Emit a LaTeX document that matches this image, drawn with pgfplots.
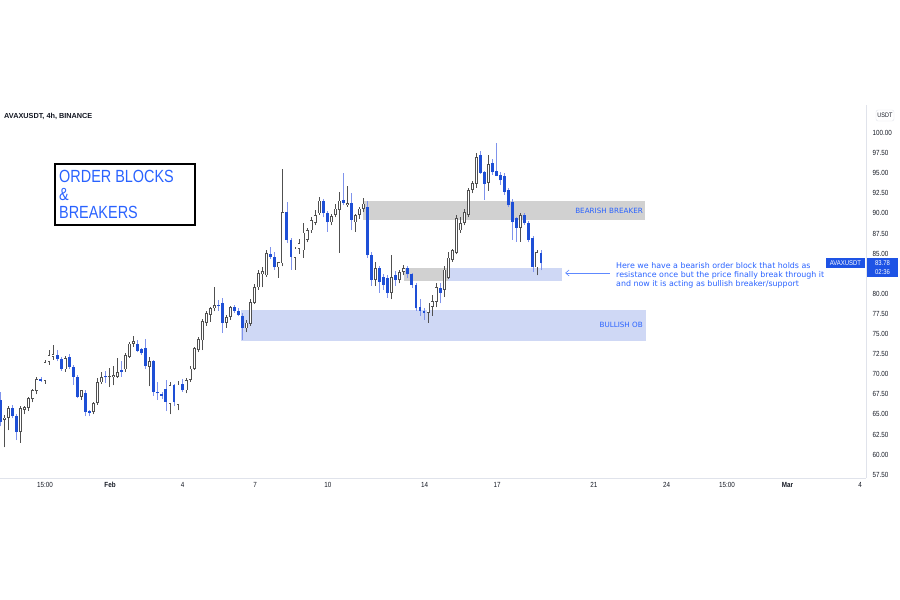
\documentclass[border=0pt]{standalone}
\usepackage{pgfplots}
\pgfplotsset{compat=1.18}
\usepackage{pgfplotstable}
\usetikzlibrary{arrows.meta}
\usepackage{fontspec}
\setmainfont{Liberation Sans}
\newfontfamily\nf[FakeStretch=0.85]{Liberation Sans}
\newfontfamily\nfb[FakeStretch=0.82]{Liberation Sans}
\newfontfamily\dvs{DejaVu Sans}
\definecolor{tvblue}{HTML}{2962FF}
\definecolor{candleblue}{HTML}{1E4FD6}
\definecolor{wickblue}{HTML}{7F93EC}
\definecolor{upgrey}{HTML}{505050}
\definecolor{zonegrey}{HTML}{D1D1D1}
\definecolor{zoneblue}{HTML}{CFD8F5}
\definecolor{axisc}{HTML}{E0E3EB}
\definecolor{txt}{HTML}{131722}
\definecolor{tagblue}{HTML}{1E53E5}

\pgfplotstableread{
i o h l c
0 66.8 67.8 63.5 64.1
1 64.3 64.9 60.9 64.6
2 64.6 66.0 63.0 65.8
3 65.8 66.2 64.5 64.8
4 64.8 65.0 61.8 62.8
5 62.8 66.0 61.5 65.8
6 65.6 66.0 65.0 65.9
7 65.8 67.2 65.4 67.0
8 66.9 68.2 66.5 68.0
9 67.9 69.6 67.5 69.4
10 69.4 69.6 69.0 69.2
11 69.2 71.8 68.8 71.5
12 71.5 73.0 71.2 72.4
13 72.2 73.6 71.8 72.5
14 72.4 73.0 71.6 71.9
15 71.9 72.2 70.4 70.6
16 70.6 72.3 70.3 72.0
17 72.1 72.5 70.6 70.9
18 70.9 71.2 68.7 69.7
19 69.7 69.9 67.0 67.2
20 67.2 68.0 66.8 68.0
21 67.7 68.0 64.8 65.3
22 65.4 65.6 64.8 65.2
23 65.3 66.6 65.0 66.4
24 66.4 69.5 66.2 69.0
25 69.0 70.3 68.8 69.6
26 69.8 70.4 68.9 69.6
27 69.6 70.8 68.4 69.7
28 69.6 71.0 68.6 69.9
29 69.7 72.0 69.5 70.3
30 70.5 71.7 69.7 70.3
31 70.6 72.6 70.3 72.4
32 72.2 74.0 72.0 73.8
33 73.8 74.7 73.4 74.1
34 73.8 74.2 72.7 72.9
35 73.1 73.3 72.4 72.6
36 73.2 74.4 70.7 71.0
37 70.9 72.2 68.5 71.6
38 71.6 71.8 67.3 67.8
39 67.8 69.0 66.8 67.6
40 67.5 67.8 66.9 67.3
41 68.2 69.3 65.4 66.6
42 66.3 69.0 65.0 68.6
43 68.6 68.8 66.0 66.5
44 66.2 69.1 65.5 68.7
45 68.8 69.4 67.8 68.0
46 68.0 69.5 67.6 69.3
47 69.3 71.0 69.0 70.7
48 70.7 73.4 70.5 73.2
49 73.0 74.6 72.7 74.4
50 74.2 76.9 73.0 76.6
51 76.4 77.9 76.0 77.6
52 77.4 78.4 76.5 78.2
53 78.2 80.8 77.8 78.6
54 78.6 79.2 77.9 78.5
55 78.9 79.5 75.1 76.4
56 76.4 77.4 75.8 77.1
57 77.1 78.5 76.8 78.3
58 78.3 78.6 77.6 77.9
59 77.9 78.2 77.2 77.4
60 77.3 77.6 74.3 75.8
61 75.7 76.8 75.2 76.4
62 76.3 79.3 76.0 79.0
63 78.9 81.2 78.7 80.8
64 80.8 82.9 80.5 82.6
65 82.4 83.3 80.8 82.8
66 82.3 85.5 82.1 85.1
67 85.0 85.8 84.3 84.6
68 84.6 85.2 83.0 83.3
69 83.3 84.0 82.0 83.9
70 83.8 95.5 83.4 90.2
71 90.2 91.4 86.3 86.7
72 86.7 87.0 83.0 84.6
73 84.5 85.8 83.0 85.6
74 85.6 86.8 85.0 86.3
75 85.4 88.8 84.5 87.6
76 86.7 88.2 86.4 87.9
77 87.9 89.6 87.6 89.2
78 88.8 90.4 88.5 89.8
79 90.0 92.0 89.8 91.6
80 91.6 91.8 89.5 90.0
81 90.0 90.3 87.7 88.9
82 88.9 89.9 88.5 89.7
83 89.8 91.2 89.5 90.6
84 90.4 92.7 85.1 91.6
85 91.7 95.0 91.0 91.3
86 91.0 93.4 90.8 91.3
87 91.3 92.5 87.9 89.2
88 88.9 89.9 87.7 89.8
89 89.8 90.8 89.3 90.6
90 90.6 91.9 90.2 91.2
91 90.8 91.5 84.5 84.8
92 84.8 85.2 81.0 81.7
93 81.7 84.0 81.0 83.2
94 83.2 83.5 80.1 81.5
95 82.1 82.4 80.5 81.1
96 82.0 82.3 79.5 80.1
97 80.1 84.8 79.3 82.1
98 82.3 82.8 81.0 81.7
99 81.7 83.0 81.3 82.7
100 82.7 83.6 82.3 83.2
101 83.2 83.4 82.0 82.4
102 82.4 82.6 80.7 81.1
103 81.1 81.3 77.9 78.2
104 78.3 79.3 77.3 77.9
105 77.9 78.2 76.8 77.6
106 77.6 78.9 76.4 78.9
107 78.4 79.8 77.3 79.1
108 79.0 81.4 78.3 80.8
109 80.7 81.4 78.8 80.1
110 80.5 83.4 79.6 83.0
111 82.0 85.2 81.8 84.5
112 84.2 85.6 84.0 85.4
113 85.1 89.8 84.9 89.4
114 87.9 89.5 87.6 88.8
115 88.8 90.5 88.5 90.2
116 89.8 93.2 89.5 92.9
117 92.9 94.0 92.5 93.8
118 93.7 97.5 93.2 97.0
119 97.3 97.7 94.9 95.0
120 95.1 95.3 91.7 93.7
121 93.8 97.2 92.8 96.1
122 96.3 96.8 94.8 95.1
123 95.3 98.8 94.6 94.7
124 94.8 95.2 93.5 94.1
125 94.7 95.0 92.3 92.7
126 92.9 93.1 90.8 91.0
127 91.4 91.8 86.7 88.9
128 89.4 89.6 86.5 88.2
129 88.2 90.0 86.5 89.8
130 89.8 90.0 88.6 88.8
131 88.8 89.0 86.4 86.7
132 86.9 87.2 82.7 83.3
133 83.3 85.4 82.3 85.2
134 85.1 85.5 82.9 83.78
}\candles

\begin{document}
\begin{tikzpicture}
\useasboundingbox (0pt,0pt) rectangle (900pt,600pt);
\begin{axis}[
  at={(0pt,122pt)}, anchor=south west, scale only axis,
  width=866pt, height=373pt,
  xmin=-0.15, xmax=214.6, ymin=57.09, ymax=103.48,
  axis x line*=bottom, axis y line*=right,
  axis line style={draw=axisc, line width=0.8pt},
  major tick length=0pt,
  /pgf/number format/assume math mode=true,
  ytick={57.5,60,62.5,65,67.5,70,72.5,75,77.5,80,85,87.5,90,92.5,95,97.5,100},
  yticklabel style={/pgf/number format/fixed, /pgf/number format/fixed zerofill, /pgf/number format/precision=2, anchor=west, xshift=3pt},
  xtick={11.0,27.13,45.13,63.13,81.13,105.13,123.13,147.13,165.13,180.1,195.13,213.13},
  xticklabels={15:00,\textbf{Feb},4,7,10,14,17,21,24,15:00,\textbf{Mar},4},
  tick label style={font=\nf\fontsize{7.4}{8}\selectfont, text=txt},
  xticklabel style={yshift=-1pt},
]
% zones
\addplot[fill=zoneblue, draw=none, forget plot] coordinates {(59.6,74.13) (160.0,74.13) (160.0,77.99) (59.6,77.99)};
\addplot[fill=zonegrey, draw=none, forget plot] coordinates {(89.9,89.18) (159.8,89.18) (159.8,91.54) (89.9,91.54)};
\addplot[fill=zonegrey, draw=none, forget plot] coordinates {(100.0,81.6) (111.0,81.6) (111.0,83.2) (100.0,83.2)};
\addplot[fill=zoneblue, draw=none, forget plot] coordinates {(111.0,81.6) (139.1,81.6) (139.1,83.2) (111.0,83.2)};

% up wicks
\addplot[draw=none, forget plot,
  x filter/.expression={\thisrow{c}>=\thisrow{o} ? x : nan},
  error bars/.cd, y dir=plus, y explicit, error mark=none,
  error bar style={draw=upgrey, line width=0.8pt}]
  table[x=i, y=l, y error expr={\thisrow{h}-\thisrow{l}}] {\candles};
% down wicks
\addplot[draw=none, forget plot,
  x filter/.expression={\thisrow{c}<\thisrow{o} ? x : nan},
  error bars/.cd, y dir=plus, y explicit, error mark=none,
  error bar style={draw=wickblue, line width=0.8pt}]
  table[x=i, y=l, y error expr={\thisrow{h}-\thisrow{l}}] {\candles};
% up bodies outline
\addplot[draw=none, forget plot,
  x filter/.expression={\thisrow{c}>=\thisrow{o} ? x : nan},
  error bars/.cd, y dir=plus, y explicit, error mark=none,
  error bar style={draw=upgrey, line width=2.9pt}]
  table[x=i, y=o, y error expr={max(\thisrow{c}-\thisrow{o},0.12)}] {\candles};
% up bodies inner
\addplot[draw=none, forget plot,
  x filter/.expression={\thisrow{c}>=\thisrow{o} ? x : nan},
  error bars/.cd, y dir=plus, y explicit, error mark=none,
  error bar style={draw=white, line width=1.3pt}]
  table[x=i, y expr={\thisrow{o}+0.09}, y error expr={max(\thisrow{c}-\thisrow{o}-0.18,0)}] {\candles};
% down bodies
\addplot[draw=none, forget plot,
  x filter/.expression={\thisrow{c}<\thisrow{o} ? x : nan},
  error bars/.cd, y dir=plus, y explicit, error mark=none,
  error bar style={draw=candleblue, line width=2.9pt}]
  table[x=i, y=c, y error expr={max(\thisrow{o}-\thisrow{c},0.12)}] {\candles};

\node[anchor=east, inner sep=0, font=\dvs\fontsize{7.2}{8}\selectfont, text=tvblue] at (axis cs:159.3,90.36) {BEARISH BREAKER};
\node[anchor=east, inner sep=0, font=\dvs\fontsize{7.2}{8}\selectfont, text=tvblue] at (axis cs:159.3,76.1) {BULLISH OB};
\node[anchor=north west, align=left, inner sep=0, font=\dvs\fontsize{7.9}{9}\selectfont, text=tvblue] at (axis cs:152.6,83.9) {Here we have a bearish order block that holds as\\resistance once but the price finally break through it\\and now it is acting as bullish breaker/support};
\draw[-{Straight Barb[length=3.5pt,width=6pt]}, draw=tvblue!75, line width=0.6pt] (axis cs:151.1,82.59) -- (axis cs:140.0,82.59);
\end{axis}

% title
\node[anchor=west, inner sep=0, font=\bfseries\fontsize{7.3}{8}\selectfont, text=txt] at (4pt,484pt) {AVAXUSDT, 4h, BINANCE};
% order blocks box
\draw[line width=1.4pt, black] (55pt,375pt) rectangle (195pt,436pt);
\node[anchor=north west, align=left, inner sep=0, font=\nfb\fontsize{17.6}{17.7}\selectfont, text=tvblue] at (59pt,429.5pt) {ORDER BLOCKS\\\&\\BREAKERS};
% USDT label
\node[draw=axisc, rounded corners=2pt, font=\nf\fontsize{6.5}{7}\selectfont, text=txt, inner sep=1.5pt, minimum height=11pt] at (885pt,484.5pt) {USDT};
% price tags
\fill[tagblue] (826pt,332pt) rectangle (865pt,342pt);
\node[text=white, font=\nf\fontsize{7}{7}\selectfont, inner sep=0] at (845.5pt,337pt) {AVAXUSDT};
\fill[tagblue] (867pt,323pt) rectangle (898pt,342pt);
\node[text=white, font=\nf\fontsize{7}{7}\selectfont, inner sep=0] at (882.5pt,337pt) {83.78};
\node[text=white, font=\nf\fontsize{7}{7}\selectfont, inner sep=0] at (882.5pt,328pt) {02:36};
\end{tikzpicture}
\end{document}
